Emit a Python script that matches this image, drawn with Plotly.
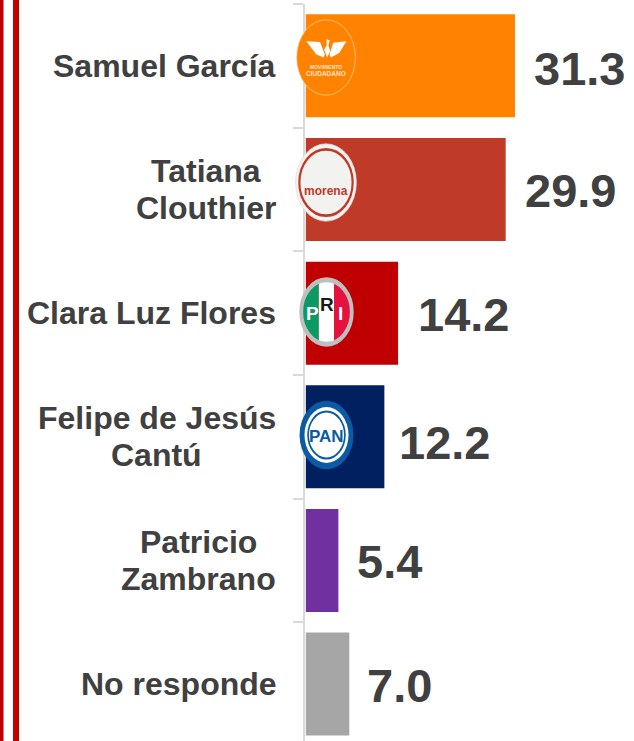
import base64
import plotly.graph_objects as go

candidate_lines = [["Samuel García"], ["Tatiana", "Clouthier"], ["Clara Luz Flores"],
                   ["Felipe de Jesús", "Cantú"], ["Patricio", "Zambrano"], ["No responde"]]
label_center_px = [164.5, 205.5, 151, 156.5, 198.5, 178.5]
categories = [" ".join(l) for l in candidate_lines]
shown_values = ["31.3", "29.9", "14.2", "12.2", "5.4", "7.0"]
bar_lengths = [31.3, 29.9, 13.8, 11.75, 4.87, 6.5]
bar_colors = ["#FF8300", "#C03A28", "#C00000", "#002060", "#7030A0", "#A6A6A6"]
label_nudge_x = [17, 17, 18, 13, 17, 16]
label_nudge_y = [-3, -1, -1, -6, -1, -1]

W, H, TOP = 634, 741, 4
TEXT = "#404040"
FONT = "Liberation Sans, Arial, sans-serif"


def px(x):
    return x / W


def py(y):
    return (H - y) / (H - TOP)


def svg_uri(body, w=100, h=100):
    svg = (f'<svg xmlns="http://www.w3.org/2000/svg" viewBox="0 0 {w} {h}" '
           f'width="{w*4}" height="{h*4}" preserveAspectRatio="none">{body}</svg>')
    return "data:image/svg+xml;base64," + base64.b64encode(svg.encode()).decode()


mc = ('<ellipse cx="50" cy="50" rx="49" ry="49" fill="#FF8300" stroke="#FFD9A8" stroke-width="1"/>'
      '<path d="M17 29 L40 30 L48 46 L46 50 L34 46 Z" fill="#FFFFFF"/>'
      '<path d="M84 29 L62 31 L56 46 L58 50 L72 44 Z" fill="#FFFFFF"/>'
      '<path d="M51 26 L56 28 L54 34 L57 42 L52 50 L47 40 L51 34 Z" fill="#FFFFFF"/>')
morena = ('<ellipse cx="50" cy="50" rx="49" ry="49" fill="#F2F2F0" stroke="#DDDDDD" stroke-width="1"/>'
          '<ellipse cx="50" cy="50" rx="43" ry="42" fill="#F2F2F0" stroke="#C03A28" stroke-width="3.5"/>')
pri = ('<defs><clipPath id="c"><ellipse cx="50" cy="50" rx="46" ry="46"/></clipPath></defs>'
       '<g clip-path="url(#c)"><rect x="0" y="0" width="36" height="100" fill="#0B9A63"/>'
       '<rect x="36" y="0" width="28" height="100" fill="#FFFFFF"/>'
       '<rect x="64" y="0" width="36" height="100" fill="#E5123F"/></g>'
       '<ellipse cx="50" cy="50" rx="46" ry="46" fill="none" stroke="#BFBFBF" stroke-width="7"/>')
pan = ('<ellipse cx="50" cy="50" rx="49" ry="49" fill="#0A5BA4"/>'
       '<ellipse cx="50" cy="50" rx="40" ry="40" fill="#FFFFFF"/>'
       '<ellipse cx="50" cy="50" rx="35" ry="35" fill="#0A5BA4"/>'
       '<ellipse cx="50" cy="50" rx="32" ry="32" fill="#FFFFFF"/>')

logos = [(mc, 296, 19, 60, 77), (morena, 295, 143, 62, 79), (pri, 299, 277, 55, 70), (pan, 299, 400, 55, 70)]
images = [dict(source=svg_uri(b), xref="paper", yref="paper", x=px(x), y=py(y),
               sizex=w / W, sizey=h / (H - TOP), xanchor="left", yanchor="top",
               sizing="stretch", layer="above") for b, x, y, w, h in logos]

fig = go.Figure(go.Bar(x=bar_lengths, y=categories, orientation="h",
                       marker=dict(color=bar_colors, line_width=0), hoverinfo="skip"))

ann = []
for c, lines, cx, s, b, nx, ny in zip(categories, candidate_lines, label_center_px, shown_values,
                                      bar_lengths, label_nudge_x, label_nudge_y):
    ann.append(dict(x=b, y=c, xref="x", yref="y", text=f"<b>{s}</b>", showarrow=False,
                    xanchor="left", xshift=nx, yshift=ny,
                    font=dict(family=FONT, size=47, color=TEXT)))
    for i, line in enumerate(lines):
        shift = 0 if len(lines) == 1 else (18.5 if i == 0 else -18.5)
        ann.append(dict(x=px(cx), y=c, xref="paper", yref="y", text=f"<b>{line}</b>", showarrow=False,
                        xanchor="center", yshift=shift,
                        font=dict(family=FONT, size=32, color=TEXT)))


def logo_text(text, x, y, size, color, family=FONT):
    ann.append(dict(x=px(x), y=py(y), xref="paper", yref="paper", text=f"<b>{text}</b>",
                    showarrow=False, font=dict(family=family, size=size, color=color)))


logo_text("MOVIMIENTO", 326, 62, 5, "#FFE2C0")
logo_text("CIUDADANO", 326, 68, 6.5, "#FFE2C0")
logo_text("morena", 326, 182, 12, "#C03A28")
logo_text("P", 312, 313, 19, "#FFFFFF")
logo_text("R", 327, 304, 19, "#1A1A1A")
logo_text("I", 340, 313, 19, "#FFFFFF")
logo_text("PAN", 326, 436, 17, "#0A5BA4")

stripes = [dict(type="rect", xref="paper", yref="paper", x0=px(a), x1=px(b), y0=py(H), y1=1.01,
                fillcolor="#C00000", line_width=0) for a, b in [(0, 3.5), (13, 19)]]

fig.update_layout(
    width=W, height=H, margin=dict(l=0, r=0, t=TOP, b=0),
    paper_bgcolor="#FFFFFF", plot_bgcolor="#FFFFFF", showlegend=False,
    bargap=0.167, annotations=ann, images=images, shapes=stripes,
    xaxis=dict(domain=[304.5 / W, 1], range=[-0.2, 49.1], visible=False, fixedrange=True),
    yaxis=dict(type="category", categoryorder="array", categoryarray=categories,
               range=[5.46, -0.5], showticklabels=False, tickson="boundaries",
               ticks="outside", ticklen=10, tickcolor="#D9D9D9", tickwidth=1.5,
               showline=True, linecolor="#D9D9D9", linewidth=2, showgrid=False, fixedrange=True),
)
fig.write_html("out.html", config=dict(displayModeBar=False),
               post_script="document.body.style.margin='0';")
